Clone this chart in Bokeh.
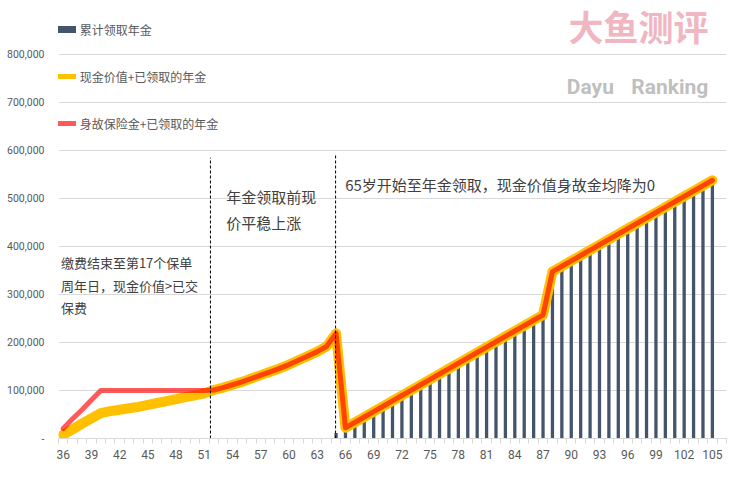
from bokeh.plotting import figure
from bokeh.models import Range1d, FixedTicker, Legend, LegendItem, ColumnDataSource
from bokeh.core.properties import value
from bokeh.embed import file_html
from bokeh.resources import INLINE

# ---------------- data ----------------
ages = list(range(36, 106))
annuity_ages = list(range(65, 106))
cumulative_annuity = [11200, 22400, 33600, 44800, 56000, 67200, 78400, 89600, 100800, 112000,
                      123200, 134400, 145600, 156800, 168000, 179200, 190400, 201600, 212800, 224000,
                      235200, 246400, 257600, 347600, 358800, 370000, 381200, 392400, 403600, 414800,
                      426000, 437200, 448400, 459600, 470800, 482000, 493200, 504400, 515600, 526800,
                      538000]
# ages 36..65
cash_value_early = [8000, 19000, 31000, 42000, 53000, 57000, 60000, 63000, 66000, 70000,
                    74000, 78000, 82000, 86000, 90000, 94000, 101000, 106000, 112000, 118000,
                    125000, 132000, 139000, 146000, 154000, 163000, 172000, 181000, 192000, 219000]
death_benefit_early = [21000, 41000, 60000, 80000, 100000, 100000, 100000, 100000, 100000, 100000,
                       100000, 100000, 100000, 100000, 100000, 100000, 101000, 106000, 112000, 118000,
                       125000, 132000, 139000, 146000, 154000, 163000, 172000, 181000, 192000, 219000]
cash_plus_annuity = cash_value_early + cumulative_annuity[1:]
death_plus_annuity = death_benefit_early + cumulative_annuity[1:]

x_tick_labels = list(range(36, 106, 3))
y_ticks = [0, 100000, 200000, 300000, 400000, 500000, 600000, 700000, 800000]
y_tick_labels = ["-", "100,000", "200,000", "300,000", "400,000", "500,000", "600,000", "700,000", "800,000"]
legend_labels = ["累计领取年金", "现金价值+已领取的年金", "身故保险金+已领取的年金"]

divider_ages = [51.65, 64.95]
divider_tops = [585000, 594000]

note1 = ["缴费结束至第17个保单", "周年日，现金价值>已交", "保费"]
note2 = ["年金领取前现", "价平稳上涨"]
note3 = ["65岁开始至年金领取，现金价值身故金均降为0"]

# ---------------- figure ----------------
CJK = "Noto Sans CJK SC"
p = figure(width=735, height=490, output_backend="svg", toolbar_location=None,
           x_range=Range1d(35.5, 106.5), y_range=Range1d(0, 895833),
           min_border_left=58, min_border_right=9, min_border_top=8, min_border_bottom=52,
           title=None)
p.outline_line_color = None
p.background_fill_color = "white"

p.xgrid.visible = False
p.ygrid.grid_line_color = "#d9d9d9"
p.ygrid.grid_line_width = 1

xa = p.xaxis[0]
xa.ticker = FixedTicker(ticks=x_tick_labels, minor_ticks=[a - 0.5 for a in range(36, 108)])
xa.axis_line_color = "#d9d9d9"
xa.major_tick_line_color = None
xa.major_tick_out = 5
xa.major_tick_in = 0
xa.minor_tick_line_color = "#d9d9d9"
xa.minor_tick_out = 5
xa.minor_tick_in = 0
xa.major_label_standoff = 6
xa.major_label_text_font = "Roboto"
xa.major_label_text_font_size = "12px"
xa.major_label_text_color = "#595959"

ya = p.yaxis[0]
ya.ticker = FixedTicker(ticks=y_ticks)
ya.major_label_overrides = {t: l for t, l in zip(y_ticks, y_tick_labels)}
ya.axis_line_color = None
ya.major_tick_line_color = None
ya.minor_tick_line_color = None
ya.major_tick_out = 0
ya.major_tick_in = 0
ya.minor_tick_out = 0
ya.major_label_standoff = 14
ya.major_label_text_font = "Roboto"
ya.major_label_text_font_size = "10.5px"
ya.major_label_text_color = "#595959"

# bars
p.vbar(x=annuity_ages, top=cumulative_annuity, width=0.35, bottom=0,
       fill_color="#44546A", line_color=None)

# lines
p.line(ages, cash_plus_annuity, line_width=10, line_color="#FFC000",
       line_join="round", line_cap="round")
p.line(ages, death_plus_annuity, line_width=5, line_color="#FF0000", line_alpha=0.65,
       line_join="round", line_cap="round")

# dividers
p.segment(x0=divider_ages, y0=[0, 0], x1=divider_ages, y1=divider_tops,
          line_color="black", line_width=1, line_dash="3 2")

# notes
p.text(x=[35.755] * 3, y=[367300, 318750, 273500], text=note1,
       text_font=value(CJK), text_font_size="13px", text_color="#404040",
       text_baseline="middle", text_align="left")
p.text(x=[53.33] * 2, y=[504200, 450600], text=note2,
       text_font=value(CJK), text_font_size="15px", text_color="#404040",
       text_baseline="middle", text_align="left")
p.text(x=[65.97], y=[529200], text=note3,
       text_font=value(CJK), text_font_size="15px", text_color="#404040",
       text_baseline="middle", text_align="left")

# watermark
p.text(x=[97.14], y=[860400], text=["大鱼测评"], text_font=value(CJK),
       text_font_size="35px", text_font_style="bold", text_color="#F0B6C1",
       text_baseline="middle", text_align="center")
p.text(x=[89.53], y=[733300], text=["Dayu"], text_font=value("Roboto"),
       text_font_size="21px", text_font_style="bold", text_color="#BFBFBF",
       text_baseline="alphabetic", text_align="left")
p.text(x=[104.56], y=[733300], text=["Ranking"], text_font=value("Roboto"),
       text_font_size="21px", text_font_style="bold", text_color="#BFBFBF",
       text_baseline="alphabetic", text_align="right")

# legend (legend-only glyph renderers, data kept outside the visible range)
dummy = ColumnDataSource(dict(x=[0, 1], y=[-500000, -500000]))
r_bar = p.line("x", "y", source=dummy, line_width=7, line_color="#44546A", line_cap="butt")
r_cash = p.line("x", "y", source=dummy, line_width=5, line_color="#FFC000", line_cap="round")
r_death = p.line("x", "y", source=dummy, line_width=5, line_color="#FF0000", line_alpha=0.65,
                 line_cap="round")
legend = Legend(items=[LegendItem(label=legend_labels[0], renderers=[r_bar]),
                       LegendItem(label=legend_labels[1], renderers=[r_cash]),
                       LegendItem(label=legend_labels[2], renderers=[r_death])],
                location=(-6.3, 304.7), orientation="vertical",
                glyph_width=24, glyph_height=20, label_height=20, label_standoff=4,
                spacing=27, padding=0, margin=0,
                background_fill_alpha=0, border_line_alpha=0,
                label_text_font=CJK, label_text_font_size="12px", label_text_color="#595959")
p.add_layout(legend)

open("out.html", "w").write(file_html(p, INLINE))
